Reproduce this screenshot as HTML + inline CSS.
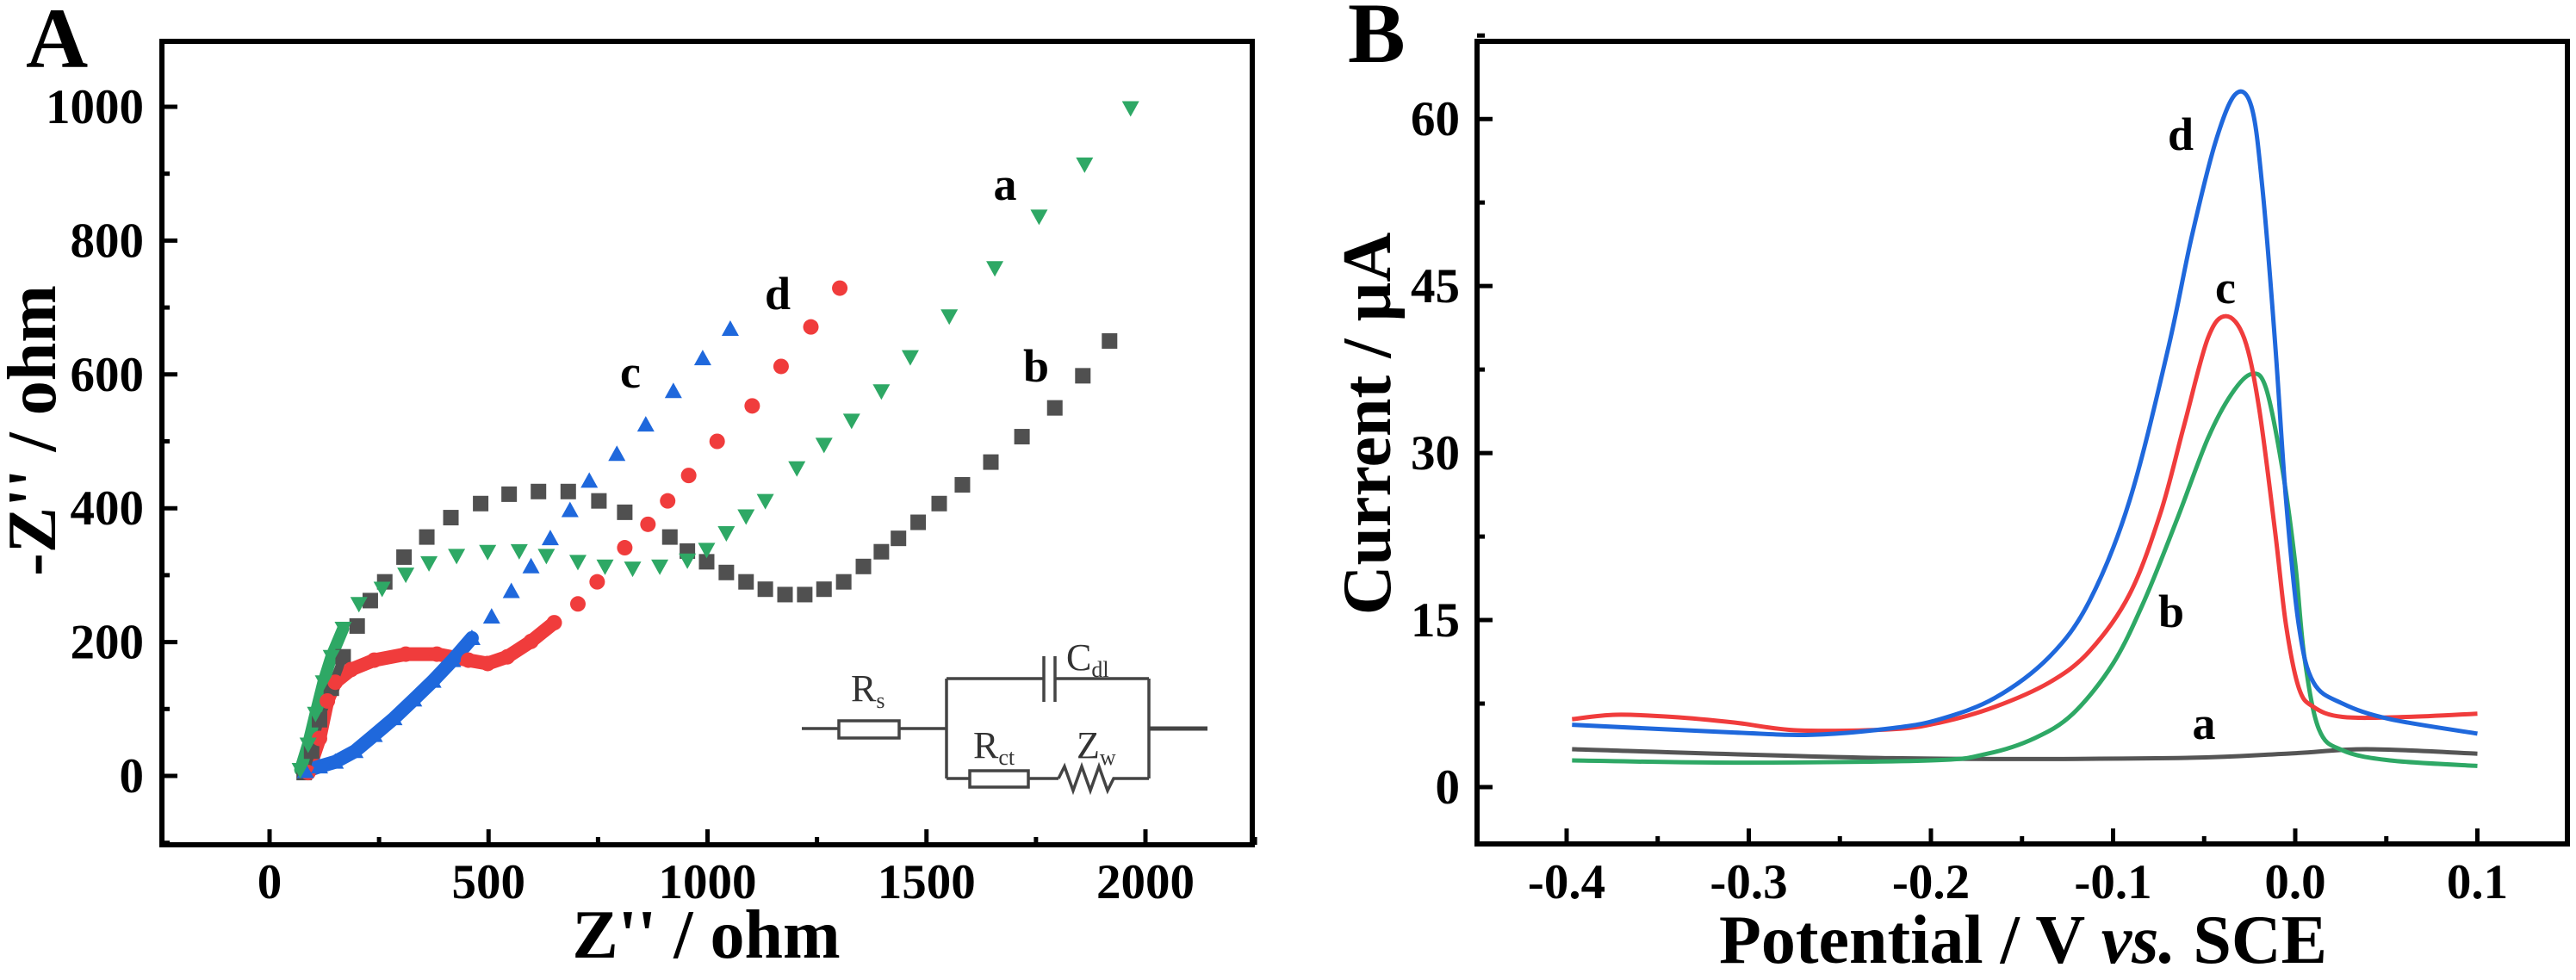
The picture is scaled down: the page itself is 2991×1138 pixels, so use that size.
<!DOCTYPE html>
<html><head><meta charset="utf-8">
<style>
html,body{margin:0;padding:0;background:#fff;overflow:hidden;}
svg{display:block;font-family:"Liberation Serif",serif;}
</style></head>
<body>
<svg id="fig" width="2991" height="1138" viewBox="0 0 2991 1138" xmlns="http://www.w3.org/2000/svg">
  <rect x="0" y="0" width="2991" height="1138" fill="#fff"/>
  <g id="panelA"></g>
  <g id="panelB"></g>
  <g font-family="Liberation Serif, serif" font-weight="bold">
    <g fill="#000">
      <rect x="185" y="45" width="1272" height="6"/>
      <rect x="185" y="978" width="1272" height="6"/>
      <rect x="185" y="45" width="6" height="939"/>
      <rect x="1451" y="45" width="6" height="939"/>
    </g>
    <text x="30" y="78" font-size="100">A</text>
    <text x="0" y="0" font-size="80" text-anchor="middle" transform="translate(64,500) rotate(-90)">-Z'' / ohm</text>
    <text x="820" y="1112" font-size="80" text-anchor="middle">Z'' / ohm</text>
    <text x="1167" y="232" font-size="54" text-anchor="middle">a</text>
    <text x="903" y="359" font-size="54" text-anchor="middle">d</text>
    <text x="732" y="450" font-size="54" text-anchor="middle">c</text>
    <text x="1203" y="443" font-size="54" text-anchor="middle">b</text>
    <g stroke="#444" stroke-width="3.5" fill="none">
      <line x1="931" y1="846" x2="974" y2="846"/>
      <rect x="974" y="837" width="70" height="20" fill="#fff"/>
      <line x1="1044" y1="846" x2="1099" y2="846"/>
      <line x1="1099" y1="788" x2="1099" y2="904"/>
      <line x1="1099" y1="788" x2="1212" y2="788"/>
      <line x1="1212" y1="762" x2="1212" y2="815"/>
      <line x1="1225" y1="762" x2="1225" y2="815"/>
      <line x1="1225" y1="788" x2="1334" y2="788"/>
      <line x1="1334" y1="788" x2="1334" y2="904"/>
      <line x1="1334" y1="846" x2="1402" y2="846" stroke-width="5"/>
      <line x1="1099" y1="904" x2="1126" y2="904"/>
      <rect x="1126" y="895" width="68" height="19" fill="#fff"/>
      <line x1="1194" y1="904" x2="1229" y2="904"/>
      <polyline points="1229,904 1236,890 1246,918 1256,890 1266,918 1276,890 1286,918 1293,904 1334,904"/>
    </g>
    <g font-weight="normal" fill="#333">
      <text x="988" y="814" font-size="44">R<tspan font-size="26" dy="8">s</tspan></text>
      <text x="1238" y="778" font-size="44">C<tspan font-size="26" dy="8">dl</tspan></text>
      <text x="1130" y="880" font-size="44">R<tspan font-size="26" dy="8">ct</tspan></text>
      <text x="1250" y="880" font-size="44">Z<tspan font-size="26" dy="8">w</tspan></text>
    </g>
    <g fill="#000">
      <rect x="1712" y="45" width="1272" height="6"/>
      <rect x="1712" y="977" width="1272" height="6"/>
      <rect x="1712" y="45" width="6" height="938"/>
      <rect x="2978" y="45" width="6" height="938"/>
    </g>
    <text x="1565" y="72" font-size="100">B</text>
    <text x="0" y="0" font-size="80" text-anchor="middle" transform="translate(1614,492) rotate(-90)">Current / µA</text>
    <text x="2349" y="1118" font-size="80" text-anchor="middle">Potential / V <tspan font-style="italic">vs.</tspan> SCE</text>
    <text x="2532" y="174" font-size="54" text-anchor="middle">d</text>
    <text x="2584" y="352" font-size="54" text-anchor="middle">c</text>
    <text x="2521" y="728" font-size="54" text-anchor="middle">b</text>
    <text x="2559" y="858" font-size="54" text-anchor="middle">a</text>
  </g>
</svg>
<script>
// ---------- Panel A data (Nyquist) ----------
const aXTicks = [0, 500, 1000, 1500, 2000];
const aYTicks = [0, 200, 400, 600, 800, 1000];
const bZre = [79,96,114,141,168,200,230,263,307,359,414,482,547,614,682,752,811,914,954,998,1043,1088,1132,1177,1222,1266,1311,1356,1397,1436,1481,1529,1582,1647,1718,1793,1857,1918];
const bZim = [5,37,84,131,178,224,262,290,327,357,386,407,421,425,425,411,394,357,336,320,304,290,279,271,271,279,290,313,335,355,379,407,435,469,507,550,598,650];
const aZre = [70,88,105,123,141,168,204,257,311,364,427,498,570,632,704,766,829,891,954,998,1043,1088,1132,1204,1266,1329,1397,1463,1552,1656,1757,1861,1966];
const aZim = [9,47,93,140,178,220,257,280,301,318,329,335,336,329,320,313,310,313,322,338,363,388,411,460,495,531,575,626,687,759,836,914,998];
const dZre = [88,114,132,150,186,239,311,382,454,498,543,597,650,704,748,811,864,909,957,1022,1102,1168,1236,1302];
const dZim = [5,56,112,140,159,173,182,182,173,168,178,201,229,257,290,341,376,411,449,500,553,612,671,729];
const cZre = [82,114,150,195,239,284,329,373,418,462,507,552,597,641,686,730,793,859,922,989,1052];
const cZim = [7,14,21,37,61,86,114,142,173,206,238,276,313,355,397,441,481,525,575,624,668];

// ---------- Panel B data (DPV) ----------
const bXTicks = [-0.4,-0.3,-0.2,-0.1,0.0,0.1];
const bYTicks = [0,15,30,45,60];
const dV = [-0.397,-0.308,-0.265,-0.221,-0.195,-0.165,-0.135,-0.113,-0.091,-0.070,-0.057,-0.044,-0.033,-0.024,-0.018,-0.011,-0.005,0.002,0.010,0.026,0.052,0.100];
const dI = [5.6,4.9,4.7,5.3,6.1,8.0,11.7,16.7,25.7,39.2,49.3,57.8,62.2,61.1,53.8,39.8,25.7,14.5,9.4,7.5,6.1,4.8];
const cV = [-0.397,-0.373,-0.342,-0.308,-0.273,-0.221,-0.195,-0.165,-0.135,-0.113,-0.091,-0.074,-0.061,-0.048,-0.038,-0.028,-0.020,-0.011,-0.005,0.002,0.010,0.026,0.061,0.100];
const cI = [6.1,6.5,6.3,5.8,5.1,5.2,5.8,7.2,9.4,12.2,17.3,24.6,32.5,40.3,42.3,40.3,34.2,22.9,14.5,8.9,7.2,6.3,6.3,6.6];
const gV = [-0.397,-0.308,-0.200,-0.169,-0.143,-0.122,-0.100,-0.083,-0.065,-0.048,-0.035,-0.024,-0.016,-0.007,0.000,0.005,0.013,0.026,0.052,0.100];
const gI = [2.4,2.2,2.4,3.0,4.4,6.6,11.1,16.7,24.0,31.3,35.3,37.1,35.8,28.5,20.1,11.7,5.2,3.3,2.4,1.9];
const kV = [-0.397,-0.221,-0.070,-0.005,0.039,0.100];
const kI = [3.4,2.6,2.6,3.0,3.4,3.0];

const NS = "http://www.w3.org/2000/svg";
function mk(parent, tag, attrs, text){
  const e = document.createElementNS(NS, tag);
  for (const k in attrs) e.setAttribute(k, attrs[k]);
  if (text !== undefined) e.textContent = text;
  parent.appendChild(e);
  return e;
}

const A = document.getElementById('panelA');
const ax = v => 313 + v * 0.5085;
const ay = v => 901 - v * 0.777;
const AL = 188, AB = 981;

for (let i = 0; i < aXTicks.length; i++) {
  const x = ax(aXTicks[i]);
  const t = mk(A, 'line', {x1:x, x2:x, y1:AB, y2:AB-18, stroke:'#000','stroke-width':5});
  
  
  const xm = ax(aXTicks[i] + 250);
  const m = mk(A, 'line', {x1:xm, x2:xm, y1:AB, y2:AB-9, stroke:'#000','stroke-width':5});
  
  
  const l = mk(A, 'text', {x:x, y:1043, 'text-anchor':'middle', 'font-size':57, 'font-weight':'bold'}, String(aXTicks[i]));
  
  
}
for (let i = 0; i < aYTicks.length; i++) {
  const y = ay(aYTicks[i]);
  const t = mk(A, 'line', {x1:AL, x2:AL+18, y1:y, y2:y, stroke:'#000','stroke-width':5});
  
  
  const ym = ay(aYTicks[i] - 100);
  const m = mk(A, 'line', {x1:AL, x2:AL+9, y1:ym, y2:ym, stroke:'#000','stroke-width':5});
  
  
  const l = mk(A, 'text', {x:167, y:y+19, 'text-anchor':'end', 'font-size':57, 'font-weight':'bold'}, String(aYTicks[i]));
  
  
}

function densePath(xs, ys, n, color, w){
  let d = '';
  for (let i = 0; i < n; i++) d += (i ? 'L' : 'M') + ax(xs[i]).toFixed(1) + ' ' + ay(ys[i]).toFixed(1);
  const p = mk(A, 'path', {d:d, fill:'none', stroke:color, 'stroke-width':w, 'stroke-linejoin':'round','stroke-linecap':'round'});
  
  
}
function marker(type, x, y, color){
  let e;
  const s = 10;
  if (type === 'sq') e = mk(A, 'rect', {x:x-s+1, y:y-s+1, width:2*s-2, height:2*s-2, fill:color});
  else if (type === 'ci') e = mk(A, 'circle', {cx:x, cy:y, r:s-1, fill:color});
  else if (type === 'up') e = mk(A, 'polygon', {points:`${x},${y-s} ${x+s},${y+s-2} ${x-s},${y+s-2}`, fill:color});
  else e = mk(A, 'polygon', {points:`${x-s},${y-s+2} ${x+s},${y-s+2} ${x},${y+s}`, fill:color});
  return e;
}
densePath(dZre, dZim, 13, '#f03c3c', 16);
densePath(cZre, cZim, 10, '#1f68dc', 16);
densePath(bZre, bZim, 5, '#505050', 10);
densePath(aZre, aZim, 6, '#2ea865', 14);
for (let i = 0; i < bZre.length; i++) {
  const e = marker('sq', ax(bZre[i]), ay(bZim[i]), '#505050');
  
  
}
for (let i = 0; i < dZre.length; i++) {
  const e = marker('ci', ax(dZre[i]), ay(dZim[i]), '#f03c3c');
  
  
}
for (let i = 0; i < cZre.length; i++) {
  const e = marker('up', ax(cZre[i]), ay(cZim[i]), '#1f68dc');
  
  
}
for (let i = 0; i < aZre.length; i++) {
  const e = marker('dn', ax(aZre[i]), ay(aZim[i]), '#2ea865');
  
  
}

const B = document.getElementById('panelB');
const bx = v => 1819 + (v + 0.4) * 2115;
const by = v => 914 - v * 12.93;
const BL = 1715, BB = 980;
for (let i = 0; i < bXTicks.length; i++) {
  const x = bx(bXTicks[i]);
  const t = mk(B, 'line', {x1:x, x2:x, y1:BB, y2:BB-18, stroke:'#000','stroke-width':5});
  
  
  if (i < bXTicks.length - 1) {
    const xm = bx(bXTicks[i] + 0.05);
    const m = mk(B, 'line', {x1:xm, x2:xm, y1:BB, y2:BB-9, stroke:'#000','stroke-width':5});
    
    
  }
  const l = mk(B, 'text', {x:x, y:1043, 'text-anchor':'middle', 'font-size':57, 'font-weight':'bold'}, bXTicks[i].toFixed(1));
  
  
}
for (let i = 0; i < bYTicks.length; i++) {
  const y = by(bYTicks[i]);
  const t = mk(B, 'line', {x1:BL, x2:BL+18, y1:y, y2:y, stroke:'#000','stroke-width':5});
  
  
  const ym = by(bYTicks[i] + 7.5);
  const m = mk(B, 'line', {x1:BL, x2:BL+9, y1:ym, y2:ym, stroke:'#000','stroke-width':5});
  
  
  const l = mk(B, 'text', {x:1695, y:y+19, 'text-anchor':'end', 'font-size':57, 'font-weight':'bold'}, String(bYTicks[i]));
  
  
}
function smoothPath(xs, ys){
  const P = xs.map((v, i) => [bx(v), by(ys[i])]);
  let d = 'M' + P[0][0].toFixed(1) + ' ' + P[0][1].toFixed(1);
  for (let i = 0; i < P.length - 1; i++) {
    const p0 = P[i-1] || P[i], p1 = P[i], p2 = P[i+1], p3 = P[i+2] || P[i+1];
    const c1 = [p1[0] + (p2[0]-p0[0])/6, p1[1] + (p2[1]-p0[1])/6];
    const c2 = [p2[0] - (p3[0]-p1[0])/6, p2[1] - (p3[1]-p1[1])/6];
    d += `C${c1[0].toFixed(1)} ${c1[1].toFixed(1)} ${c2[0].toFixed(1)} ${c2[1].toFixed(1)} ${p2[0].toFixed(1)} ${p2[1].toFixed(1)}`;
  }
  return d;
}
const lk = mk(B, 'path', {d:smoothPath(kV, kI), fill:'none', stroke:'#555', 'stroke-width':5});


const lg = mk(B, 'path', {d:smoothPath(gV, gI), fill:'none', stroke:'#2ea865', 'stroke-width':5});


const lc = mk(B, 'path', {d:smoothPath(cV, cI), fill:'none', stroke:'#f03c3c', 'stroke-width':5});


const ld = mk(B, 'path', {d:smoothPath(dV, dI), fill:'none', stroke:'#1f68dc', 'stroke-width':5});


</script>
</body></html>
